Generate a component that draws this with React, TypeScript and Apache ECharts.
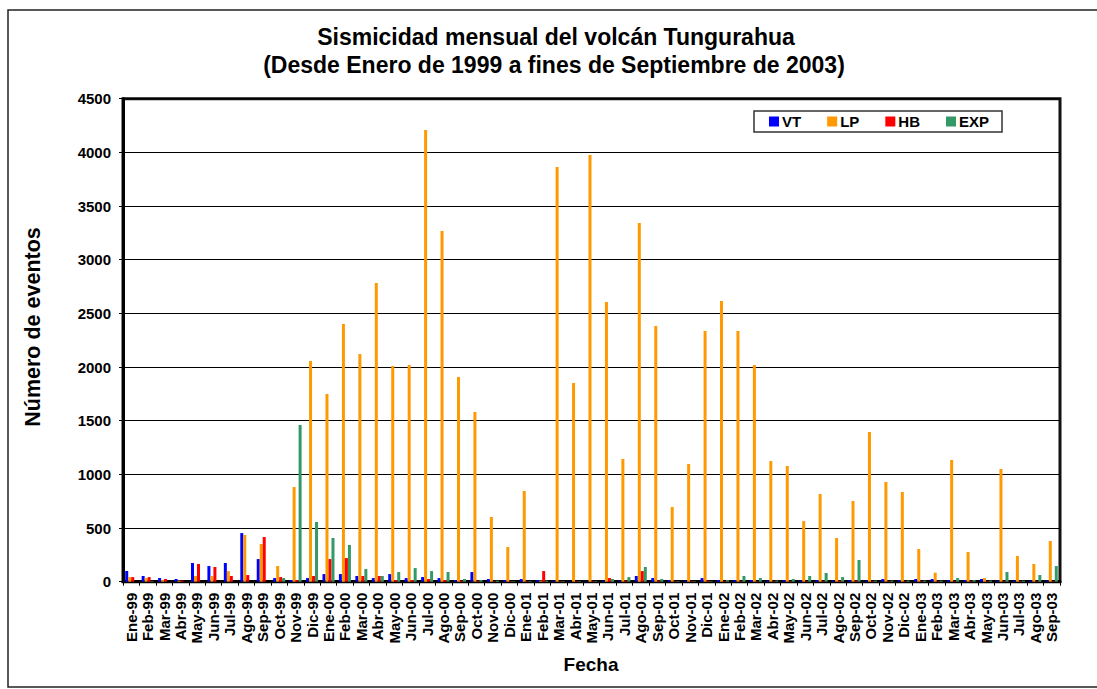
import React, { useEffect, useRef } from "react";
import * as echarts from "echarts";

const months = [
  "Ene-99", "Feb-99", "Mar-99", "Abr-99", "May-99", "Jun-99", "Jul-99", "Ago-99", "Sep-99", "Oct-99", "Nov-99", "Dic-99",
  "Ene-00", "Feb-00", "Mar-00", "Abr-00", "May-00", "Jun-00", "Jul-00", "Ago-00", "Sep-00", "Oct-00", "Nov-00", "Dic-00",
  "Ene-01", "Feb-01", "Mar-01", "Abr-01", "May-01", "Jun-01", "Jul-01", "Ago-01", "Sep-01", "Oct-01", "Nov-01", "Dic-01",
  "Ene-02", "Feb-02", "Mar-02", "Abr-02", "May-02", "Jun-02", "Jul-02", "Ago-02", "Sep-02", "Oct-02", "Nov-02", "Dic-02",
  "Ene-03", "Feb-03", "Mar-03", "Abr-03", "May-03", "Jun-03", "Jul-03", "Ago-03", "Sep-03",
];

const vt = [
  99, 53, 34, 25, 174, 146, 174, 453, 211, 34, 15, 34,
  71, 71, 53, 34, 71, 34, 43, 34, 15, 90, 25, 15,
  25, 15, 10, 5, 5, 10, 10, 53, 34, 15, 10, 34,
  15, 15, 15, 10, 15, 10, 15, 10, 15, 10, 25, 15,
  25, 25, 15, 15, 25, 10, 10, 10, 10,
];

const lp = [
  43, 34, 15, 10, 53, 53, 99, 435, 351, 146, 882, 2056,
  1749, 2401, 2121, 2783, 2010, 2019, 4209, 3268, 1907, 1581, 603, 323,
  845, 10, 3864, 1851, 3976, 2606, 1143, 3342, 2382, 696, 1096, 2336,
  2615, 2336, 2019, 1124, 1078, 565, 817, 407, 752, 1395, 929, 836,
  304, 84, 1134, 276, 34, 1050, 239, 165, 379,
];

const hb = [
  43, 43, 25, 10, 165, 137, 53, 62, 416, 43, 15, 53,
  211, 220, 53, 53, 15, 15, 25, 15, 10, 10, 5, 5,
  5, 99, 5, 5, 5, 34, 10, 99, 10, 5, 5, 10,
  5, 5, 5, 5, 5, 5, 5, 10, 10, 5, 5, 5,
  5, 5, 5, 5, 5, 5, 5, 5, 5,
];

const exp = [
  0, 5, 0, 0, 0, 0, 0, 0, 0, 34, 1460, 556,
  407, 342, 118, 53, 90, 127, 99, 90, 25, 15, 10, 5,
  5, 10, 5, 5, 5, 25, 43, 137, 25, 5, 5, 5,
  15, 53, 34, 10, 25, 53, 81, 43, 202, 10, 10, 10,
  10, 10, 34, 15, 10, 90, 10, 62, 146,
];

const seriesNames = ["VT", "LP", "HB", "EXP"];
const seriesColors = ["#0000FF", "#FF9900", "#FF0000", "#339966"];
const yTicks = [0, 500, 1000, 1500, 2000, 2500, 3000, 3500, 4000, 4500];
const titleLines = [
  "Sismicidad mensual del volcán Tungurahua",
  "(Desde Enero de 1999 a fines de Septiembre de 2003)",
];

const FONT = "'Liberation Sans', Arial, sans-serif";

export default function App() {
  const ref = useRef<HTMLDivElement>(null);

  useEffect(() => {
    if (!ref.current) return;
    const chart = echarts.init(ref.current, null, { renderer: "svg" });
    const data = [vt, lp, hb, exp];
    chart.setOption({
      animation: false,
      backgroundColor: "#ffffff",
      textStyle: { fontFamily: FONT },
      legend: {
        left: 754,
        top: 111,
        orient: "horizontal",
        data: seriesNames,
        icon: "rect",
        itemWidth: 10,
        itemHeight: 10,
        itemGap: 26,
        padding: [3, 13, 3, 15],
        borderColor: "#333",
        borderWidth: 1.5,
        backgroundColor: "#fff",
        textStyle: { fontFamily: FONT, fontWeight: "bold", fontSize: 15, color: "#000", padding: [0, 0, 0, -2] },
      },
      grid: {
        left: 123,
        top: 98.7,
        width: 937,
        height: 483,
        show: true,
        borderColor: "#111",
        borderWidth: 3,
        containLabel: false,
      },
      xAxis: {
        type: "category",
        data: months,
        boundaryGap: true,
        axisLine: { show: true, lineStyle: { color: "#000", width: 3 } },
        axisTick: { show: true, inside: false, length: 4, alignWithLabel: false, lineStyle: { color: "#000", width: 1 } },
        axisLabel: {
          interval: 0,
          rotate: 90,
          margin: 11,
          fontFamily: FONT,
          fontWeight: "bold",
          fontSize: 15,
          color: "#000",
        },
        splitLine: { show: false },
      },
      yAxis: {
        type: "value",
        min: yTicks[0],
        max: yTicks[yTicks.length - 1],
        interval: 500,
        axisLine: { show: true, lineStyle: { color: "#000", width: 3 } },
        axisTick: { show: true, inside: false, length: 4, lineStyle: { color: "#000", width: 1 } },
        axisLabel: {
          margin: 12,
          fontFamily: FONT,
          fontWeight: "bold",
          fontSize: 15,
          color: "#000",
          formatter: (v: number) => String(v),
        },
        splitLine: { show: true, lineStyle: { color: "#000", width: 1 } },
      },
      series: seriesNames.map((name, i) => ({
        name,
        type: "bar",
        data: data[i],
        barGap: "0%",
        barCategoryGap: "27%",
        itemStyle: { color: seriesColors[i] },
      })),
      graphic: [
        {
          type: "rect",
          silent: true,
          z: -10,
          shape: { x: 8, y: 10, width: 1200, height: 677 },
          style: { fill: "none", stroke: "#222", lineWidth: 1.5 },
        },
        {
          type: "text",
          x: 556,
          y: 37,
          style: {
            text: titleLines[0],
            font: `bold 23px ${FONT}`,
            fill: "#000",
            textAlign: "center",
            textVerticalAlign: "middle",
          },
        },
        {
          type: "text",
          x: 554,
          y: 65,
          style: {
            text: titleLines[1],
            font: `bold 23px ${FONT}`,
            fill: "#000",
            textAlign: "center",
            textVerticalAlign: "middle",
          },
        },
        {
          type: "text",
          x: 33,
          y: 327,
          rotation: Math.PI / 2,
          style: {
            text: "Número de eventos",
            font: `bold 21.5px ${FONT}`,
            fill: "#000",
            textAlign: "center",
            textVerticalAlign: "middle",
          },
        },
        {
          type: "text",
          x: 591,
          y: 664,
          style: {
            text: "Fecha",
            font: `bold 19px ${FONT}`,
            fill: "#000",
            textAlign: "center",
            textVerticalAlign: "middle",
          },
        },
      ],
    });
    return () => chart.dispose();
  }, []);

  return (
    <div
      ref={ref}
      style={{ position: "fixed", left: 0, top: 0, width: 1097, height: 689 }}
    />
  );
}
